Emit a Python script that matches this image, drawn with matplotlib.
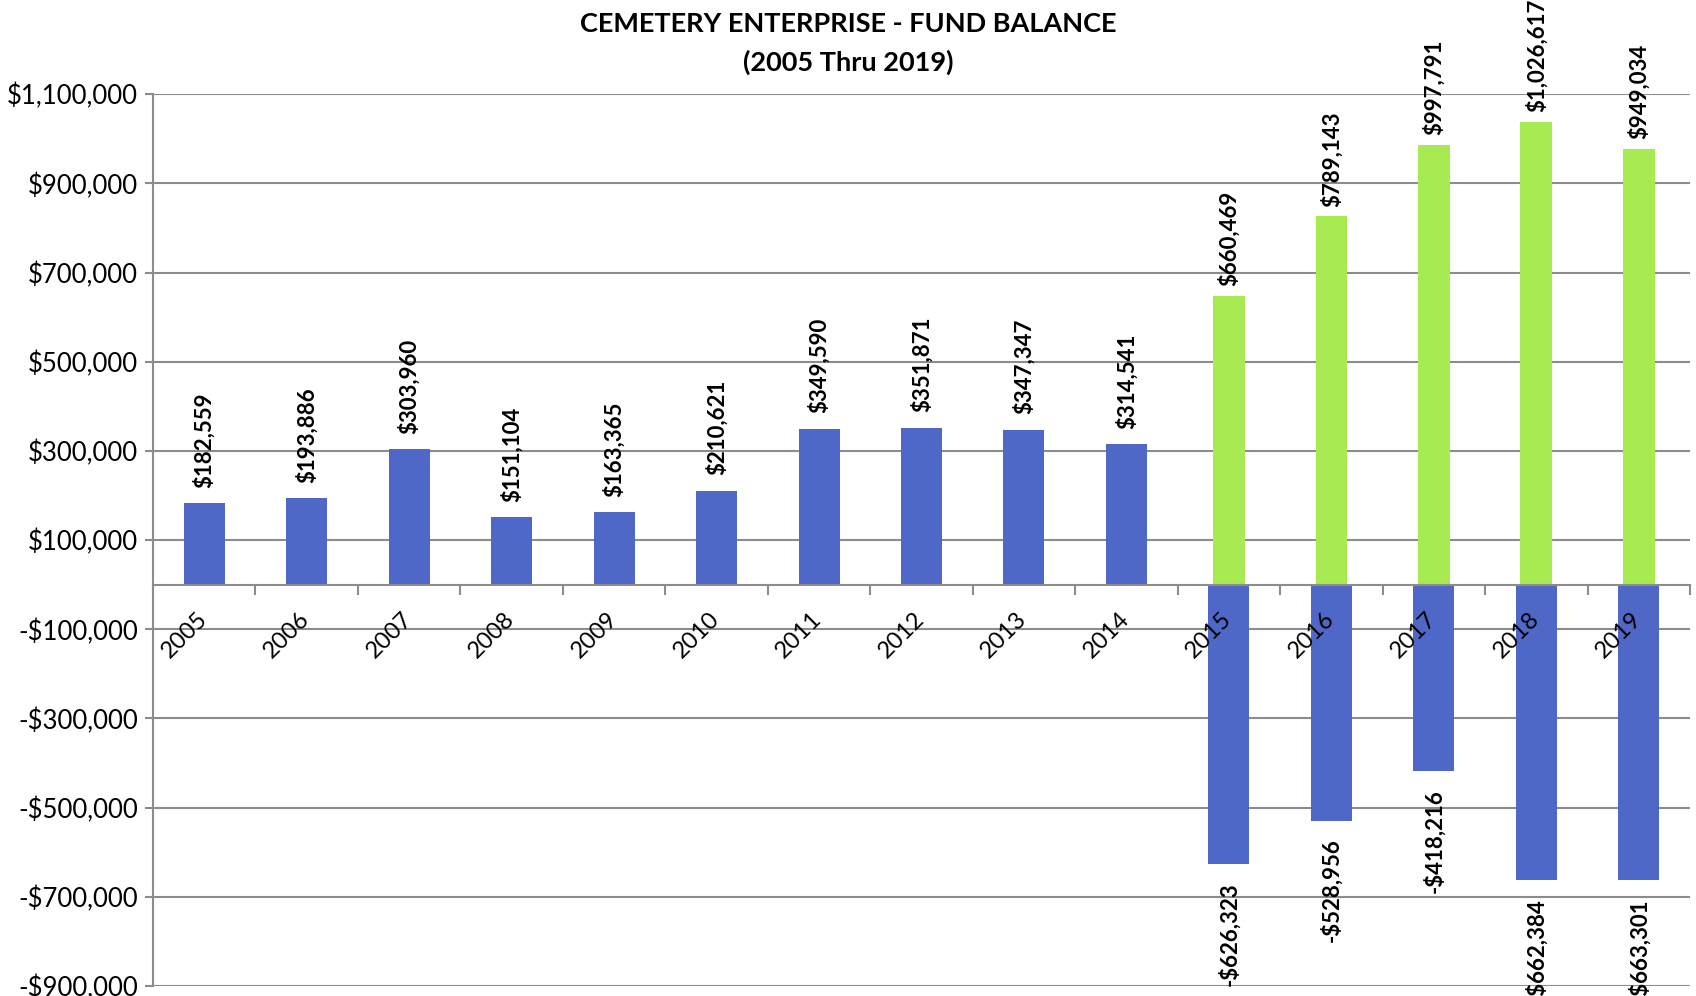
import numpy as np
import matplotlib.pyplot as plt

years = ["2005", "2006", "2007", "2008", "2009", "2010", "2011", "2012",
         "2013", "2014", "2015", "2016", "2017", "2018", "2019"]
balance = [182559, 193886, 303960, 151104, 163365, 210621, 349590, 351871,
           347347, 314541, -626323, -528956, -418216, -662384, -663301]
green_years = ["2015", "2016", "2017", "2018", "2019"]
# label values as printed, and bar heights as drawn in the original chart
green_values = [660469, 789143, 997791, 1026617, 949034]
green_heights = [648000, 826000, 986000, 1037000, 977000]

blue = "#4F68C8"
green = "#A8EA52"
grid_gray = "#8C8C8C"

plt.rcParams['font.family'] = ['Lato', 'DejaVu Sans']


def money(v):
    if v < 0:
        return "-${:,.0f}".format(-v)
    return "${:,.0f}".format(v)


fig = plt.figure(figsize=(16.96, 9.96), dpi=100)
ax = fig.add_axes([0.0902, 0.010, 0.9063, 0.8955])

x = np.arange(len(years))
gx = np.array([years.index(y) for y in green_years])

ax.bar(x, balance, width=0.40, color=blue, zorder=2)
ax.bar(gx, green_heights, width=0.31, color=green, zorder=2)

# data labels
for xi, v in zip(x, balance):
    off = 11 if v >= 0 else -13
    ax.annotate(money(v), (xi, v), xytext=(0, off), textcoords="offset points",
                rotation=90, ha="center", va="bottom" if v >= 0 else "top",
                fontsize=16, fontweight="bold", annotation_clip=False, zorder=5)
for xi, h, v in zip(gx, green_heights, green_values):
    ax.annotate(money(v), (xi, h), xytext=(0, 7), textcoords="offset points",
                rotation=90, ha="center", va="bottom",
                fontsize=16, fontweight="bold", annotation_clip=False, zorder=5)

# year labels drawn on top of the bars
for xi, yr in zip(x, years):
    ax.annotate(yr, (xi, 0), xytext=(5, -17), textcoords="offset points",
                rotation=45, ha="right", va="top", fontsize=17,
                annotation_clip=False, zorder=6)

ax.set_xlim(-0.5, len(years) - 0.5)
ax.set_ylim(-900000, 1100000)
yt = np.arange(-900000, 1100001, 200000)
ax.set_yticks(yt)
ax.set_yticklabels([money(v) for v in yt], fontsize=18.5)
ax.yaxis.grid(True, color=grid_gray, linewidth=1.5, zorder=0)
ax.tick_params(axis="y", length=6, width=1.5, color=grid_gray, pad=5)

# category axis sits at zero
ax.spines["bottom"].set_position(("data", 0))
ax.spines["bottom"].set_color(grid_gray)
ax.spines["bottom"].set_linewidth(1.5)
ax.spines["bottom"].set_zorder(3)
ax.spines["left"].set_color(grid_gray)
ax.spines["left"].set_linewidth(1.5)
ax.spines["top"].set_visible(False)
ax.spines["right"].set_visible(False)

ax.set_xticks(np.arange(-0.5, len(years)), labels=[""] * (len(years) + 1))
ax.tick_params(axis="x", which="major", length=7, width=1.5, color=grid_gray)

fig.text(0.5, 0.976, "CEMETERY ENTERPRISE - FUND BALANCE", ha="center",
         va="center", fontsize=19.5, fontweight="bold")
fig.text(0.5, 0.937, "(2005 Thru 2019)", ha="center", va="center",
         fontsize=19.5, fontweight="bold")

fig.savefig("out.png", dpi=100)
